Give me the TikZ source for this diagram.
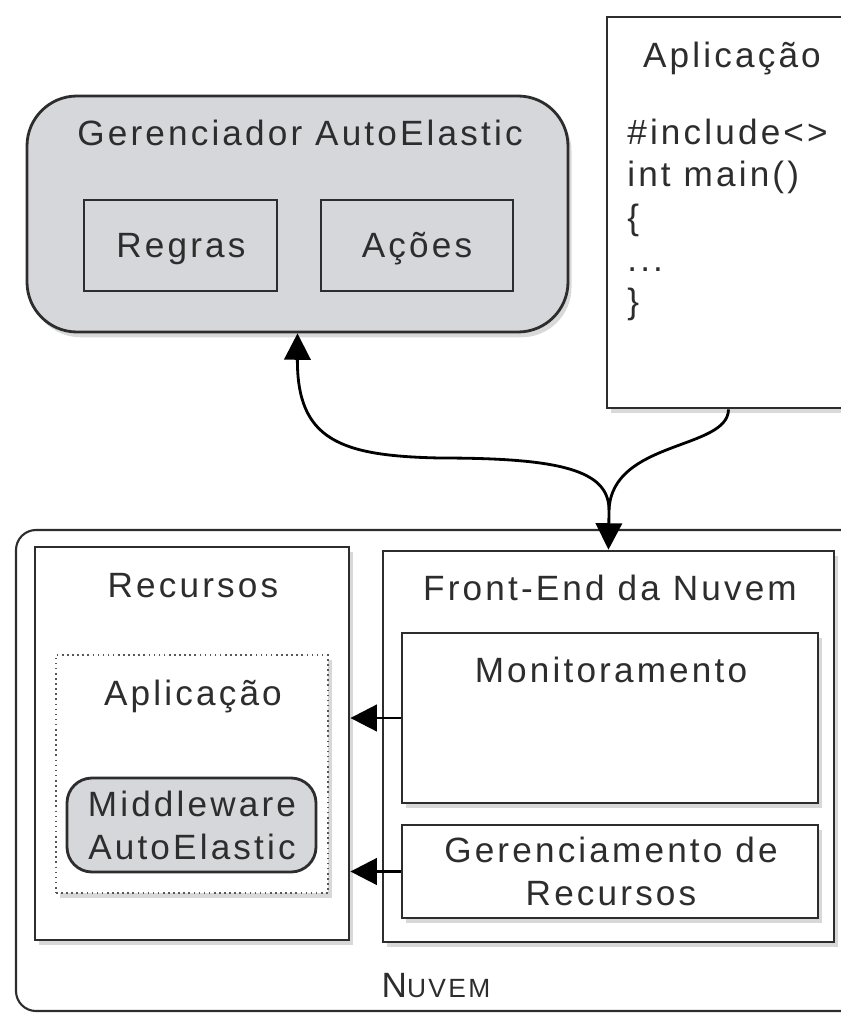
\documentclass[tikz,border=0pt]{standalone}
\usepackage{fontspec}
\setmainfont[LetterSpace=9]{Liberation Sans}
\usetikzlibrary{arrows.meta,shadows,fit}

\definecolor{cinzacaixa}{RGB}{214,215,219}
\definecolor{tinta}{RGB}{45,45,45}

\tikzset{
	caixa/.style={draw=tinta, line width=1.6pt, fill=white, inner sep=0pt},
	sombra/.style={drop shadow={shadow xshift=2pt, shadow yshift=-3pt, opacity=0.3}},
	titulo/.style={text=tinta, inner sep=0pt, anchor=base},
	ponta/.tip={Triangle[length=15pt,width=15pt]},
}

\begin{document}
\begin{tikzpicture}[
		x={(0.02cm,0cm)},
		y={(0cm,-0.02cm)},
		font=\fontsize{20}{24}\selectfont,
	]
	\useasboundingbox (0,0) rectangle (840,1014);

	% gerenciador
	\node[caixa, sombra, fill=cinzacaixa, rounded corners=1cm, fit={(27,96) (568,332)}] (gerenc) {};
	\node[titulo] (gerencT) at (300,145) {Gerenciador AutoElastic};
	\node[caixa, fill=cinzacaixa, fit={(84,200) (277,291)}] (regras) {};
	\node[titulo] (regrasT) at (181,257) {Regras};
	\node[caixa, fill=cinzacaixa, fit={(321,200) (513,291)}] (acoes) {};
	\node[titulo] (acoesT) at (417,257) {Ações};

	% aplicacao (codigo)
	\node[caixa, sombra, fit={(607,17) (850,408)}] (codbox) {};
	\node[titulo] (codT) at (732,67) {Aplicação};
	\node[titulo, anchor=north west, align=left] (codigo) at (627,119) {\#include<>\\int main()\\\{\\...\\\}};

	% nuvem
	\node[draw=tinta, line width=1.2pt, fill=white, rounded corners=0.4cm, inner sep=0pt, fit={(16,530) (880,1011)}] (nuvem) {};
	\node[titulo] (nuvemT) at (436,997) {N{\fontsize{15}{18}\selectfont UVEM}};

	\node[caixa, sombra, fit={(35,547) (349,940)}] (recursos) {};
	\node[titulo] (recursosT) at (193,597) {Recursos};
	\node[caixa, sombra, draw=tinta!80, line width=0.9pt, dotted, fit={(56,655) (328,893)}] (app) {};
	\node[titulo] (appT) at (193,705) {Aplicação};
	\node[caixa, fill=cinzacaixa, rounded corners=0.5cm, fit={(67,778) (316,872)}] (middle) {};
	\node[titulo, align=center] (middleT) at (192,859) {Middleware\\AutoElastic};

	\node[caixa, sombra, fit={(383,551) (834,942)}] (frontend) {};
	\node[titulo] (frontendT) at (610,600) {Front-End da Nuvem};
	\node[caixa, sombra, fit={(402,633) (818,803)}] (monit) {};
	\node[titulo] (monitT) at (611,682) {Monitoramento};
	\node[caixa, sombra, fit={(402,825) (818,918)}] (gerrec) {};
	\node[titulo, align=center] (gerrecT) at (611,905) {Gerenciamento de\\Recursos};

	% setas
	\draw[line width=1.6pt, -ponta] (monit.west) -- (recursos.east |- monit.west);
	\draw[line width=1.6pt, -ponta] (gerrec.west) -- (recursos.east |- gerrec.west);

	\coordinate (juncao) at (609,510);
	\draw[line width=1.6pt, ponta-ponta] (gerenc.south) .. controls (297,440) and (340,456) .. (440,458)
		.. controls (560,458) and (609,470) .. (juncao) -- (frontend.north);
	\draw[line width=1.6pt] (codbox.south) .. controls (728,450) and (612,440) .. (juncao);
\end{tikzpicture}
\end{document}
